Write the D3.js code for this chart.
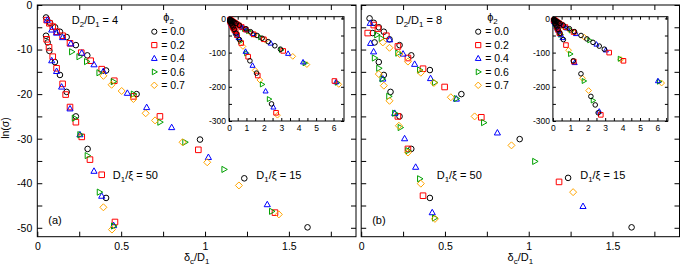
<!DOCTYPE html>
<html>
<head>
<meta charset="utf-8">
<script src="https://cdn.jsdelivr.net/npm/d3@7"></script>
<style>
body { margin: 0; background: #fff; }
text { font-family: "Liberation Sans", Arial, sans-serif; }
</style>
</head>
<body>
<script>
// ---- data: [delta_c/D1, ln(sigma)] ----
// panel (a), D2/D1 = 4
let a_phi00 = [[0.052,-2.8],[0.076,-4.0],[0.106,-5.0],[0.135,-6.0],[0.175,-7.2],[0.23,-9.0],[0.298,-11.3],[0.41,-14.7],[0.592,-20.0],[0.97,-30.2],[1.234,-38.9],[1.611,-49.9],
  [0.052,-6.9],[0.062,-8.4],[0.072,-10.3],[0.105,-12.8],[0.135,-15.7],[0.175,-19.5],[0.23,-25.0],[0.30,-32.3],[0.41,-43.3]];
let a_phi02 = [[0.056,-3.4],[0.072,-4.1],[0.092,-4.85],[0.115,-6.0],[0.151,-6.9],[0.195,-8.6],[0.262,-10.7],[0.318,-12.5],[0.384,-14.4],[0.459,-17.0],[0.573,-20.5],[0.731,-25.0],[0.96,-32.5],[1.417,-46.6],
  [0.056,-7.7],[0.070,-9.5],[0.092,-11.6],[0.115,-14.2],[0.151,-17.7],[0.169,-20.1],[0.195,-22.9],[0.23,-26.3],[0.265,-29.6],[0.314,-34.7],[0.384,-38.1],[0.463,-48.7]];
let a_phi04 = [[0.06,-3.4],[0.086,-5.6],[0.115,-6.3],[0.151,-7.3],[0.20,-8.7],[0.265,-10.8],[0.338,-13.4],[0.394,-14.9],[0.537,-19.8],[0.652,-23.0],[0.801,-27.5],[1.02,-34.2],[1.371,-44.8],
  [0.086,-12.5],[0.115,-14.9],[0.145,-18.4],[0.195,-23.3],[0.254,-29.1],[0.338,-37.3],[0.384,-42.9],[0.455,-49.5]];
let a_phi06 = [[0.205,-10.5],[0.249,-11.6],[0.294,-12.7],[0.368,-15.2],[0.453,-17.2],[0.573,-20.0],[0.731,-26.3],[0.88,-30.8],[1.113,-36.9],[1.397,-46.3],
  [0.221,-25.4],[0.254,-29.1],[0.298,-33.8],[0.37,-42.0],[0.455,-49.6]];
let a_phi07 = [[0.394,-15.9],[0.443,-17.9],[0.503,-19.3],[0.573,-21.1],[0.646,-24.3],[0.702,-25.9],[0.866,-30.8],[1.013,-35.3],[1.202,-40.5],[1.44,-47.0],
  [0.394,-45.4],[0.445,-50.4]];

// panel (b), D2/D1 = 8
let b_phi00 = [[0.05,-3.0],[0.075,-4.0],[0.105,-5.0],[0.135,-6.0],[0.169,-7.7],[0.229,-9.0],[0.299,-11.3],[0.41,-14.6],[0.598,-20.0],[0.946,-30.1],[1.235,-38.8],[1.614,-49.9],
  [0.069,-6.3],[0.08,-8.4],[0.105,-12.8],[0.135,-15.7],[0.175,-19.5],[0.229,-25.0],[0.299,-32.3],[0.41,-43.3]];
let b_phi02 = [[0.075,-4.5],[0.10,-5.3],[0.15,-6.9],[0.219,-9.3],[0.279,-11.9],[0.369,-14.3],[0.498,-18.4],[0.717,-25.2],[1.181,-39.7],
  [0.039,-6.3],[0.219,-25.0],[0.279,-32.3],[0.369,-42.8]];
let b_phi04 = [[0.054,-4.1],[0.17,-7.8],[0.25,-11.0],[0.319,-13.3],[0.414,-16.5],[0.568,-21.1],[0.813,-28.7],[1.324,-45.2],
  [0.056,-8.6],[0.074,-10.5],[0.129,-16.6],[0.2,-24.3],[0.259,-30.0],[0.325,-36.4],[0.424,-46.6]];
let b_phi06 = [[0.093,-6.7],[0.12,-7.5],[0.219,-10.8],[0.349,-14.6],[0.438,-17.4],[0.568,-21.0],[0.731,-26.4],[1.036,-35.1],
  [0.079,-11.9],[0.105,-14.2],[0.125,-16.6],[0.165,-20.5],[0.2,-24.3],[0.233,-27.5],[0.279,-32.7],[0.349,-39.0],[0.438,-47.8]];
let b_phi07 = [[0.129,-8.4],[0.169,-9.6],[0.229,-11.0],[0.279,-12.7],[0.356,-15.2],[0.434,-17.5],[0.535,-20.7],[0.677,-25.0],[0.897,-31.5],[1.265,-42.0],
  [0.105,-15.5],[0.135,-18.1],[0.169,-21.5],[0.225,-27.1],[0.279,-33.1],[0.356,-40.1],[0.44,-48.0]];

// extra points only seen in the insets (beyond the main range)
let a_tail00 = [[1.9,-58],[2.25,-68],[2.63,-80],[2.95,-90],[0.6,-62],[1.2,-124],[1.58,-160],[2.44,-250]];
let a_tail02 = [[2.0,-61],[3.11,-95],[6.05,-183],[0.7,-72],[1.1,-112],[1.65,-167],[2.7,-276]];
let a_tail04 = [[2.4,-73],[3.39,-103],[4.25,-128],[6.15,-186],[0.55,-57],[0.95,-97],[1.35,-138],[2.1,-213],[2.55,-260]];
let a_tail06 = [[1.8,-55],[3.0,-92],[4.35,-131],[6.2,-188],[0.65,-67],[1.0,-102],[1.9,-193],[2.3,-236]];
let a_tail07 = [[2.1,-64],[3.66,-111],[4.47,-135],[6.3,-193],[0.8,-82],[1.5,-152],[1.77,-180],[2.78,-283]];

let b_tail00 = [[1.95,-60],[2.3,-70],[2.66,-81],[2.95,-90],[0.6,-62],[1.17,-124],[1.61,-162],[2.18,-228],[2.43,-253],[2.6,-276]];
let b_tail02 = [[3.23,-100],[4.05,-124],[0.75,-78],[1.2,-126],[2.75,-282]];
let b_tail04 = [[2.5,-76],[3.04,-93],[6.03,-183],[0.55,-57],[1.25,-130],[2.66,-272]];
let b_tail06 = [[2.1,-64],[3.85,-118],[6.1,-185],[1.0,-104],[1.78,-183],[2.3,-240]];
let b_tail07 = [[1.8,-55],[3.9,-120],[6.24,-189],[0.9,-93],[1.7,-175],[2.05,-211]];

let phiLabels = ["= 0.0", "= 0.2", "= 0.4", "= 0.6", "= 0.7"];
let xTicks = [0, 0.25, 0.5, 0.75, 1, 1.25, 1.5, 1.75];
let yTicks = [-50, -45, -40, -35, -30, -25, -20, -15, -10, -5, 0];
let insetXTicks = [0, 0.5, 1, 1.5, 2, 2.5, 3, 3.5, 4, 4.5, 5, 5.5, 6, 6.5];
let insetYTicks = [-300, -250, -200, -150, -100, -50, 0];

let colors = ["#000000", "#ff0000", "#0000ff", "#00a000", "#ffa500"];
let shapes = ["circle", "square", "triUp", "triRight", "diamond"];

let width = 682, height = 270;
let svg = d3.select("body").append("svg")
    .attr("width", width).attr("height", height);

function shapePath(shape, s) {
    if (shape === "circle") return "M" + s + ",0A" + s + "," + s + " 0 1,1 " + (-s) + ",0A" + s + "," + s + " 0 1,1 " + s + ",0Z";
    if (shape === "square") return "M" + (-s) + "," + (-s) + "H" + s + "V" + s + "H" + (-s) + "Z";
    if (shape === "triUp") return "M0," + (-s * 1.2) + "L" + (s * 1.1) + "," + (s * 0.75) + "L" + (-s * 1.1) + "," + (s * 0.75) + "Z";
    if (shape === "triRight") return "M" + (s * 1.2) + ",0L" + (-s * 0.75) + "," + (-s * 1.1) + "L" + (-s * 0.75) + "," + (s * 1.1) + "Z";
    return "M0," + (-s * 1.25) + "L" + (s * 1.25) + ",0L0," + (s * 1.25) + "L" + (-s * 1.25) + ",0Z";
}

function points(g, data, x, y, i, s) {
    g.selectAll(null).data(data).enter()
        .append("path")
        .attr("d", shapePath(shapes[i], s))
        .attr("transform", d => "translate(" + x(d[0]) + "," + y(d[1]) + ")")
        .attr("fill", "none")
        .attr("stroke", colors[i])
        .attr("stroke-width", 1);
}

function richText(g, x, y, parts, size, anchor) {
    let t = g.append("text").attr("x", x).attr("y", y)
        .attr("font-size", size).attr("text-anchor", anchor || "start");
    let shift = 0;
    parts.forEach(p => {
        let want = p[1] ? size * 0.3 : 0;
        t.append("tspan").attr("dy", want - shift)
            .attr("font-size", p[1] ? size * 0.72 : size).text(p[0]);
        shift = want;
    });
    return t;
}

function styleAxis(g, size) {
    g.select(".domain").remove();
    g.selectAll("line").attr("stroke", "#000");
    g.selectAll("text").attr("font-size", size).attr("fill", "#000")
        .attr("font-family", "Liberation Sans, Arial, sans-serif");
}

function drawPanel(left, right, series, tails, ratio, tag, showY) {
    let top = 5, bottom = 236.7;
    let x = d3.scaleLinear().domain([0, 1.9]).range([left, right]);
    let y = d3.scaleLinear().domain([-52, 0]).range([bottom, top]);
    let g = svg.append("g");

    g.append("g").attr("transform", "translate(0," + bottom + ")")
        .call(d3.axisBottom(x).tickValues(xTicks).tickSizeInner(-5).tickSizeOuter(0).tickPadding(6)
            .tickFormat(d => d % 0.5 === 0 ? String(d) : ""))
        .call(a => styleAxis(a, 10.5));
    g.append("g").attr("transform", "translate(0," + top + ")")
        .call(d3.axisTop(x).tickValues(xTicks).tickSizeInner(-5).tickSizeOuter(0).tickFormat(""))
        .call(a => styleAxis(a, 10.5));
    g.append("g").attr("transform", "translate(" + left + ",0)")
        .call(d3.axisLeft(y).tickValues(yTicks).tickSizeInner(-5).tickSizeOuter(0).tickPadding(5)
            .tickFormat(d => (showY && d % 10 === 0) ? String(d) : ""))
        .call(a => styleAxis(a, 10.5));
    g.append("g").attr("transform", "translate(" + right + ",0)")
        .call(d3.axisRight(y).tickValues(yTicks).tickSizeInner(-5).tickSizeOuter(0).tickFormat(""))
        .call(a => styleAxis(a, 10.5));

    g.append("rect").attr("x", left).attr("y", top)
        .attr("width", right - left).attr("height", bottom - top)
        .attr("fill", "none").attr("stroke", "#000").attr("stroke-width", 1);

    series.forEach((d, i) => points(g, d, x, y, i, 2.8));

    // labels
    richText(g, left + 34.5, 24, [["D", 0], ["2", 1], ["/D", 0], ["1", 1], [" = " + ratio, 0]], 11);
    richText(g, left + 126, 21, [["\u03d5", 0], ["2", 1]], 11);
    phiLabels.forEach((lab, i) => {
        let yy = 31.7 + i * 13.4;
        g.append("path").attr("d", shapePath(shapes[i], 2.6))
            .attr("transform", "translate(" + (left + 117) + "," + yy + ")")
            .attr("fill", "none").attr("stroke", colors[i]).attr("stroke-width", 1);
        g.append("text").attr("x", left + 124).attr("y", yy + 3.7)
            .attr("font-size", 10.5).text(lab);
    });
    richText(g, left + 75.5, 179, [["D", 0], ["1", 1], ["/\u03be = 50", 0]], 11);
    richText(g, left + 219, 179, [["D", 0], ["1", 1], ["/\u03be = 15", 0]], 11);
    g.append("text").attr("x", left + 11).attr("y", 224).attr("font-size", 11).text(tag);
    richText(g, (left + right) / 2, 261, [["\u03b4", 0], ["c", 1], ["/D", 0], ["1", 1]], 11, "middle");

    // inset
    let il = left + 191.7, ir = left + 306.7, it = 16.7, ib = 121;
    let ix = d3.scaleLinear().domain([0, 6.6]).range([il, ir]);
    let iy = d3.scaleLinear().domain([-300, 5]).range([ib, it]);
    let ig = svg.append("g");
    ig.append("rect").attr("x", il).attr("y", it).attr("width", ir - il).attr("height", ib - it)
        .attr("fill", "#fff").attr("stroke", "#000").attr("stroke-width", 1);
    ig.append("g").attr("transform", "translate(0," + ib + ")")
        .call(d3.axisBottom(ix).tickValues(insetXTicks).tickSizeInner(-3).tickSizeOuter(0).tickPadding(3.5)
            .tickFormat(d => d % 1 === 0 ? String(d) : ""))
        .call(a => styleAxis(a, 8.5));
    ig.append("g").attr("transform", "translate(0," + it + ")")
        .call(d3.axisTop(ix).tickValues(insetXTicks).tickSizeInner(-3).tickSizeOuter(0).tickFormat(""))
        .call(a => styleAxis(a, 8.5));
    ig.append("g").attr("transform", "translate(" + il + ",0)")
        .call(d3.axisLeft(iy).tickValues(insetYTicks).tickSizeInner(-3).tickSizeOuter(0).tickPadding(3)
            .tickFormat(d => d % 100 === 0 ? String(d) : ""))
        .call(a => styleAxis(a, 8.5));
    ig.append("g").attr("transform", "translate(" + ir + ",0)")
        .call(d3.axisRight(iy).tickValues(insetYTicks).tickSizeInner(-3).tickSizeOuter(0).tickFormat(""))
        .call(a => styleAxis(a, 8.5));
    for (let i = series.length - 1; i >= 0; i--) {
        points(ig, series[i].concat(tails[i]), ix, iy, i, 2.3);
    }
}

drawPanel(37.3, 356, [a_phi00, a_phi02, a_phi04, a_phi06, a_phi07],
    [a_tail00, a_tail02, a_tail04, a_tail06, a_tail07], 4, "(a)", true);
drawPanel(361.2, 679.5, [b_phi00, b_phi02, b_phi04, b_phi06, b_phi07],
    [b_tail00, b_tail02, b_tail04, b_tail06, b_tail07], 8, "(b)", false);

svg.append("text")
    .attr("transform", "translate(9,128) rotate(-90)")
    .attr("text-anchor", "middle").attr("font-size", 10.5)
    .text("ln(\u03c3)");
</script>
</body>
</html>
